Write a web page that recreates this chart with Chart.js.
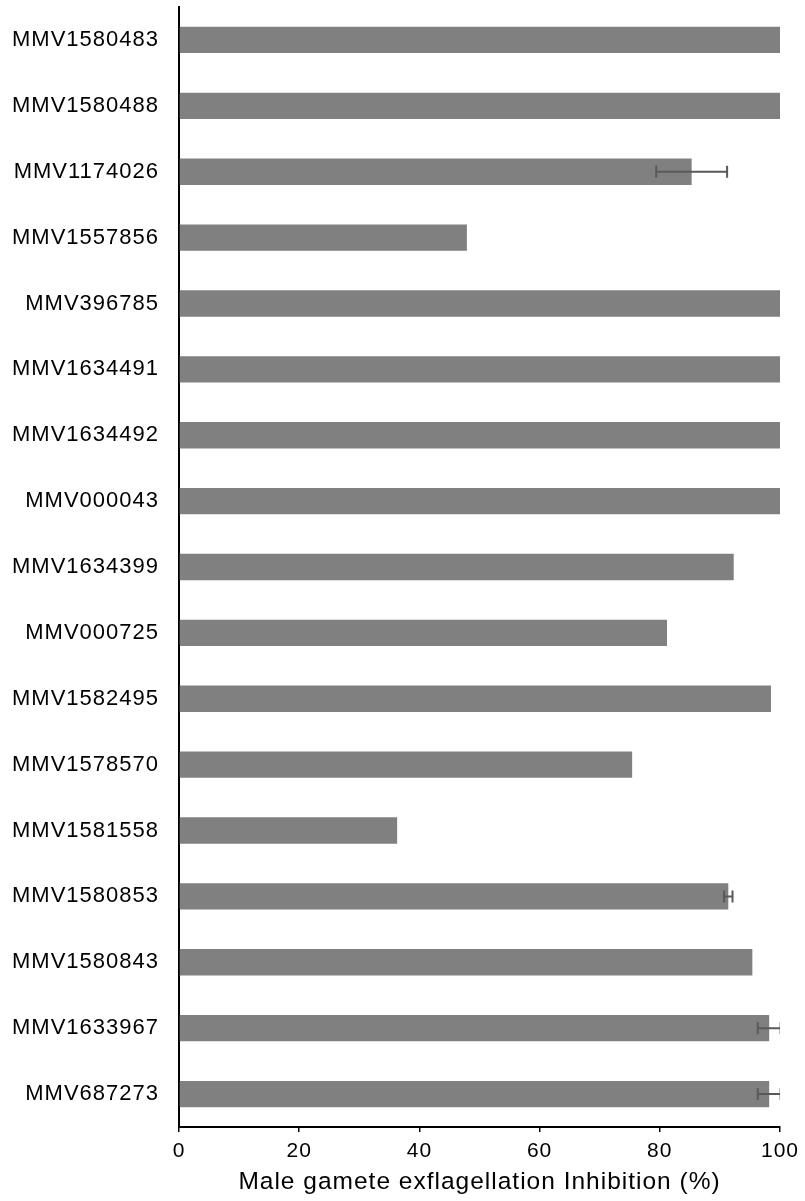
<!DOCTYPE html>
<html>
<head>
<meta charset="utf-8">
<script src="https://cdn.jsdelivr.net/npm/chart.js@4"></script>
<style>
  html, body { margin: 0; padding: 0; background: #fff; }
  canvas { display: block; }
</style>
</head>
<body>
<canvas id="grafico" width="805" height="1201"></canvas>
<script>
const compounds = [
    'MMV1580483', 'MMV1580488', 'MMV1174026', 'MMV1557856', 'MMV396785',
    'MMV1634491', 'MMV1634492', 'MMV000043', 'MMV1634399', 'MMV000725',
    'MMV1582495', 'MMV1578570', 'MMV1581558', 'MMV1580853', 'MMV1580843',
    'MMV1633967', 'MMV687273'
];
const inhibition = [
    100, 100, 85.3, 47.9, 100,
    100, 100, 100, 92.3, 81.2,
    98.5, 75.4, 36.3, 91.4, 95.4,
    98.2, 98.2
];
// desvio (null = sem barra de erro)
const inhibitionErr = [
    null, null, 5.9, null, null,
    null, null, null, null, null,
    null, null, null, 0.7, null,
    1.9, 1.9
];
const xTicks = [0, 20, 40, 60, 80, 100];

const FONT = "'Liberation Sans', Arial, Helvetica, sans-serif";

// texto um pouco mais espaçado, como no Helvetica original
const textSpacing = {
    id: 'textSpacing',
    beforeDraw(chart) {
        chart.ctx.letterSpacing = '1px';
    }
};

// barras de erro horizontais desenhadas por cima das barras
const errorBars = {
    id: 'errorBars',
    afterDatasetsDraw(chart) {
        const ctx = chart.ctx;
        const xs = chart.scales.x;
        const ys = chart.scales.y;
        const area = chart.chartArea;
        ctx.save();
        ctx.beginPath();
        ctx.rect(area.left, area.top - 10, area.right - area.left, area.bottom - area.top + 20);
        ctx.clip();
        ctx.strokeStyle = '#595959';
        ctx.lineWidth = 2;
        inhibitionErr.forEach((e, i) => {
            if (e === null) return;
            const y = ys.getPixelForValue(i);
            const x1 = xs.getPixelForValue(inhibition[i] - e);
            const x2 = xs.getPixelForValue(inhibition[i] + e);
            ctx.beginPath();
            ctx.moveTo(x1, y);
            ctx.lineTo(x2, y);
            ctx.moveTo(x1, y - 6);
            ctx.lineTo(x1, y + 6);
            ctx.moveTo(x2, y - 6);
            ctx.lineTo(x2, y + 6);
            ctx.stroke();
        });
        ctx.restore();
    }
};

const ctx = document.getElementById('grafico').getContext('2d');
new Chart(ctx, {
    type: 'bar',
    data: {
        labels: compounds,
        datasets: [{
            label: 'Inhibition',
            data: inhibition,
            backgroundColor: '#808080',
            borderWidth: 0,
            barPercentage: 0.4,
            categoryPercentage: 1
        }]
    },
    options: {
        indexAxis: 'y',
        responsive: false,
        animation: false,
        devicePixelRatio: 1,
        layout: {
            padding: { top: 7, right: 25, left: 0, bottom: 0 }
        },
        plugins: {
            legend: { display: false },
            tooltip: { enabled: false }
        },
        scales: {
            x: {
                min: 0,
                max: 100,
                afterBuildTicks: scale => {
                    scale.ticks = xTicks.map(v => ({ value: v }));
                },
                afterFit: scale => { scale.height = 74; },
                grid: {
                    drawOnChartArea: false,
                    drawTicks: true,
                    tickLength: 5,
                    color: '#000',
                    lineWidth: 1.5
                },
                border: { display: true, color: '#000', width: 2 },
                ticks: {
                    color: '#000',
                    padding: 7,
                    maxRotation: 0,
                    font: { family: FONT, size: 21 }
                },
                title: {
                    display: true,
                    text: 'Male gamete exflagellation Inhibition (%)',
                    color: '#000',
                    font: { family: FONT, size: 24.5 },
                    padding: { top: 4, bottom: 4 }
                }
            },
            y: {
                afterFit: scale => {
                    scale.width = 179;
                    scale.paddingTop = 0;
                    scale.paddingBottom = 0;
                },
                grid: { display: false, drawTicks: false },
                border: { display: true, color: '#000', width: 2 },
                ticks: {
                    color: '#000',
                    padding: 20,
                    font: { family: FONT, size: 22 }
                }
            }
        }
    },
    plugins: [textSpacing, errorBars]
});
</script>
</body>
</html>
